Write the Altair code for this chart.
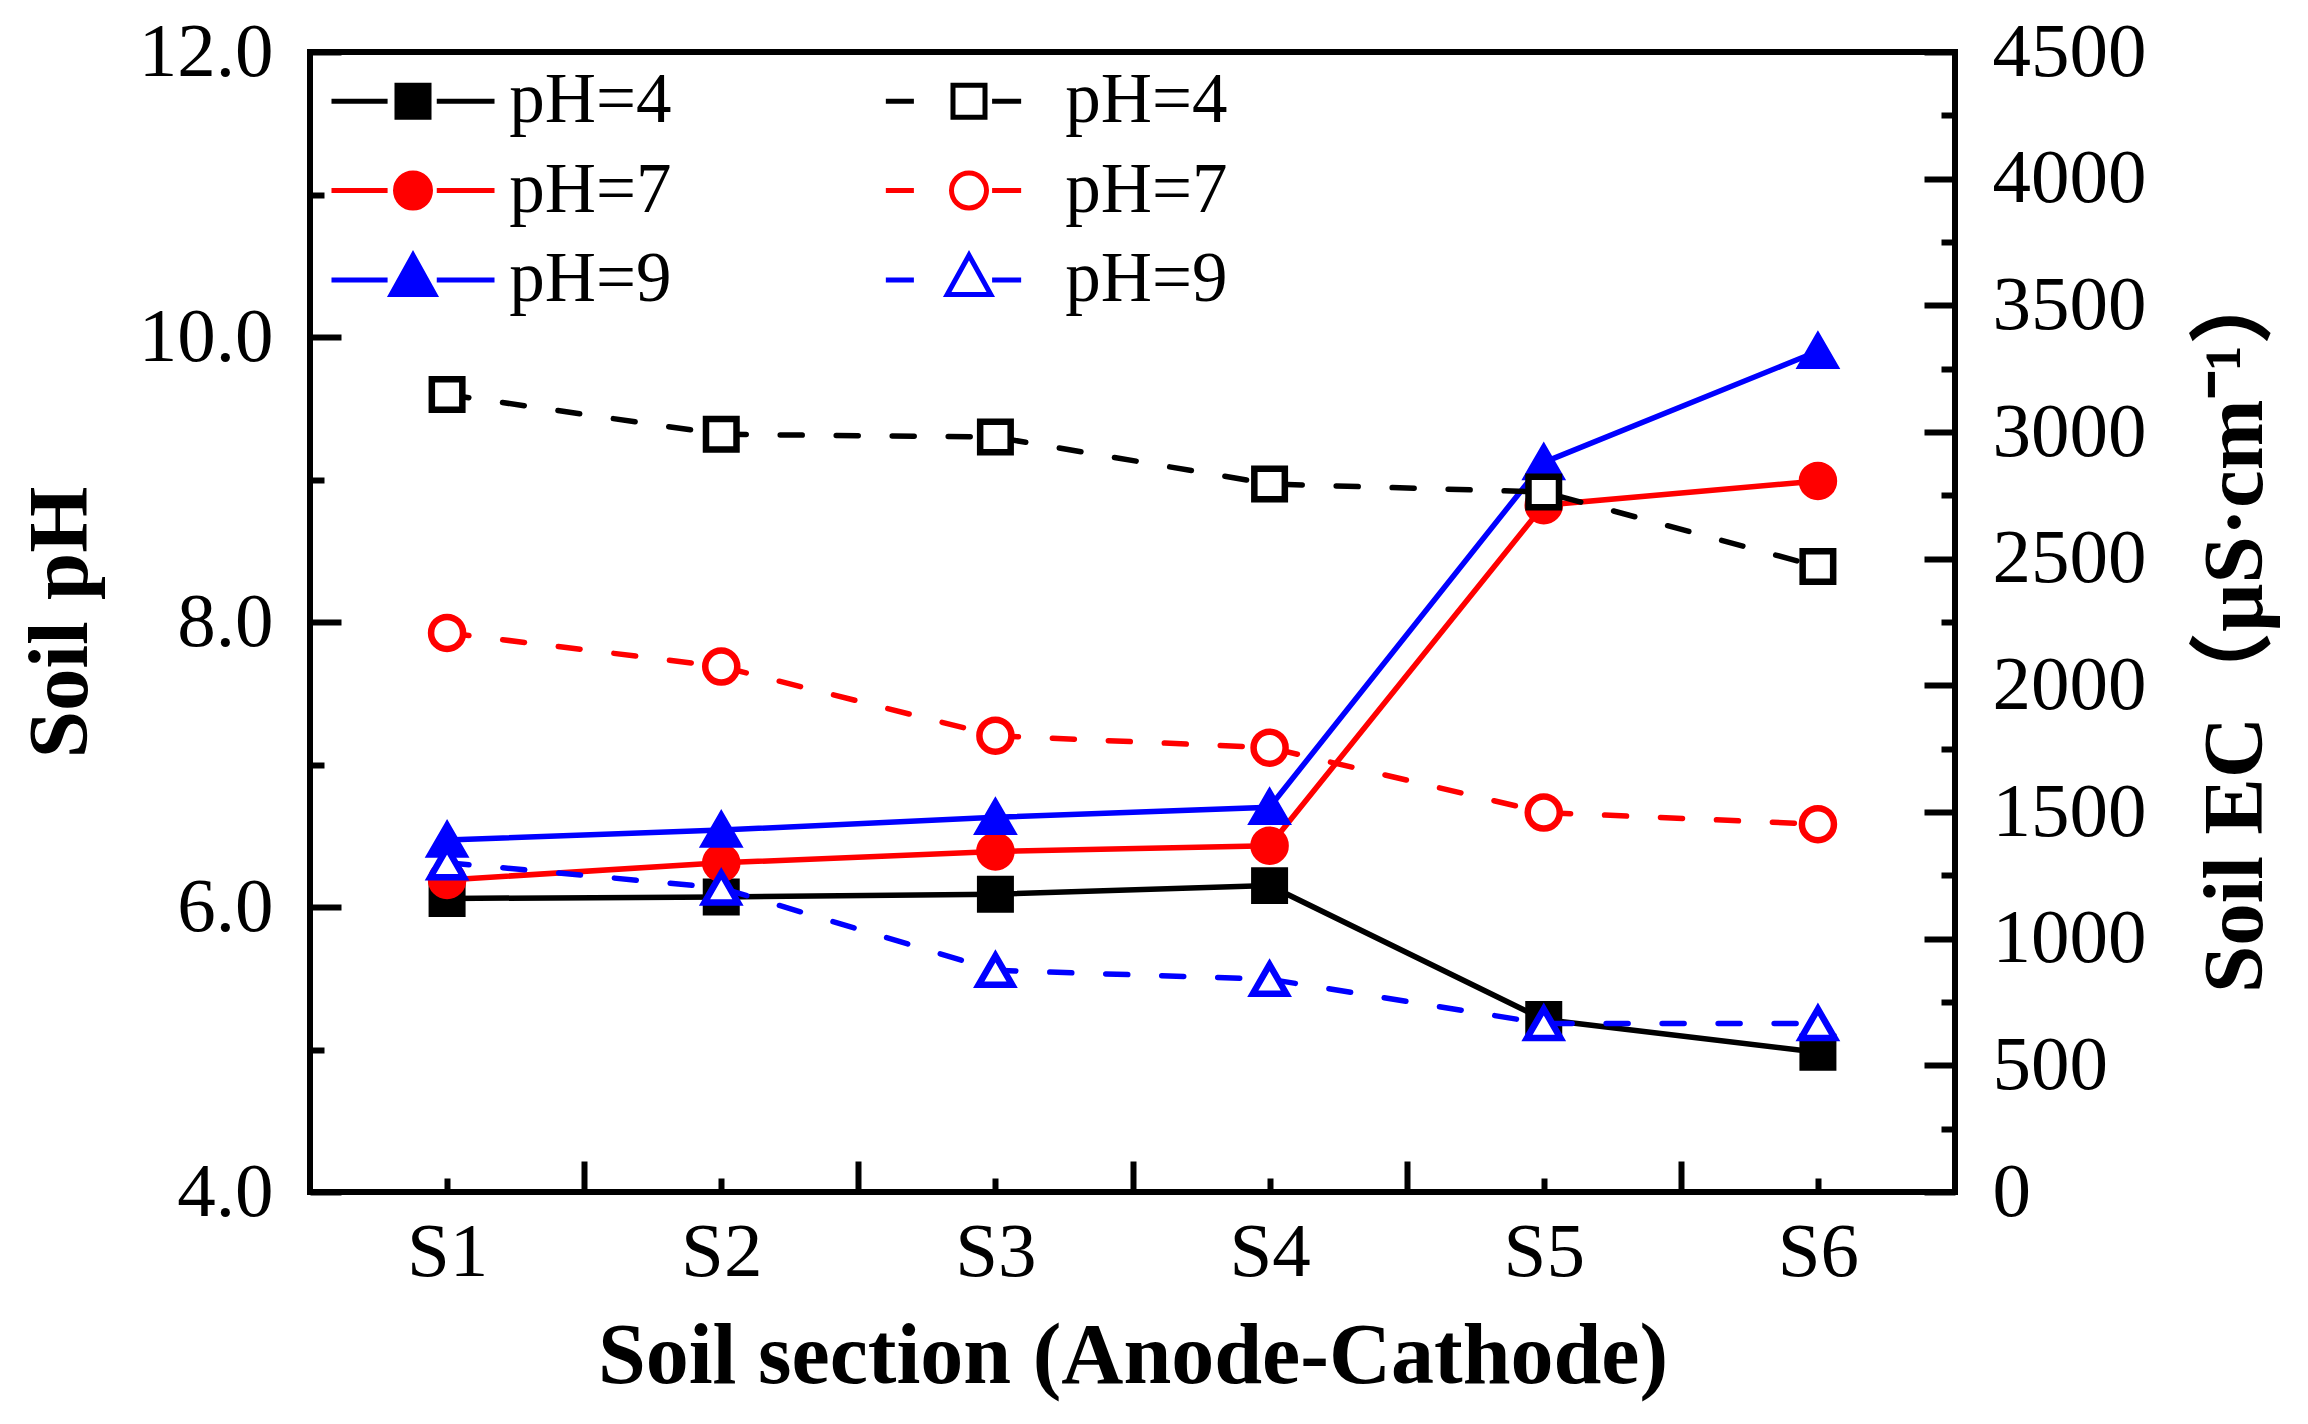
import json
import altair as alt
import pandas as pd

# ---------------- data ----------------
sections = ["S1", "S2", "S3", "S4", "S5", "S6"]
solution_ph = ["pH=4", "pH=7", "pH=9"]

soil_ph_4 = [6.06, 6.07, 6.09, 6.15, 5.21, 4.98]
soil_ph_7 = [6.19, 6.31, 6.39, 6.43, 8.82, 8.99]
soil_ph_9 = [6.47, 6.54, 6.63, 6.70, 9.12, 9.90]

soil_ec_4 = [3148, 2991, 2980, 2795, 2763, 2469]
soil_ec_7 = [2207, 2074, 1801, 1754, 1498, 1452]
soil_ec_9 = [1300, 1200, 875, 840, 665, 665]

ph_tick_values = [4, 5, 6, 7, 8, 9, 10, 11, 12]
ec_tick_values = list(range(0, 4501, 250))
x_tick_values = [1, 1.5, 2, 2.5, 3, 3.5, 4, 4.5, 5, 5.5, 6]

series_colors = ["#000000", "#ff0000", "#0000ff"]
series_shapes = ["square", "circle", "triangle-up"]
series_sizes = [930, 1122, 1850]

# ---------------- tables ----------------
def long_table(series_values):
    rows = []
    for name, vals in zip(solution_ph, series_values):
        for i, (sec, v) in enumerate(zip(sections, vals)):
            rows.append({"series": name, "section": sec, "pos": i + 1, "value": v})
    return pd.DataFrame(rows)

ph_df = long_table([soil_ph_4, soil_ph_7, soil_ph_9])
ec_df = long_table([soil_ec_4, soil_ec_7, soil_ec_9])

entries = [f"{s}|solid" for s in solution_ph] + [f"{s}|open" for s in solution_ph]
legend_df = pd.DataFrame({"entry": entries})

# legend glyphs (line + marker), unit = sqrt(symbolSize)/2 px
seg_solid = "M-2.47,0H-0.77M0.72,0H2.47"
seg_dash = "M-2.52,0H-1.67M0.70,0H1.58"
g_square = "M-0.485,-0.485H0.485V0.485H-0.485Z"
g_circle = "M0.53,0A0.53,0.53,0,1,1,-0.53,0A0.53,0.53,0,1,1,0.53,0Z"
g_tri = "M0,-0.75L0.66,0.44H-0.66Z"
legend_paths = [seg_solid + g_square, seg_solid + g_circle, seg_solid + g_tri,
                seg_dash + g_square, seg_dash + g_circle, seg_dash + g_tri]
legend_fill = series_colors + ["#ffffff"] * 3
legend_stroke = series_colors + series_colors

# ---------------- layout ----------------
W, H = 1645, 1140
SERIF = "Liberation Serif"
TITLE_FONT = "Liberation Serif, Noto Sans CJK SC"

short_dash = [14, 1000]

x_axis = alt.Axis(
    orient="top", offset=-H, values=x_tick_values,
    labelExpr=f"{json.dumps(sections)}[datum.value - 1] || ''",
    tickSize=31, tickWidth=6, tickColor="black",
    tickDash={"condition": {"test": "datum.value % 1 === 0", "value": short_dash}, "value": []},
    labelPadding=-114.5, labelBaseline="alphabetic", labelAlign="center",
    labelOverlap=False, labelFlush=False,
    title="Soil section (Anode-Cathode)", titleY=190.5, titleBaseline="alphabetic",
    titleFontSize=86,
    domain=False, grid=False,
)
x_enc = alt.X("pos:Q", scale=alt.Scale(domain=[0.5, 6.5], nice=False, zero=False), axis=x_axis)

ph_axis = alt.Axis(
    orient="right", offset=-W, values=ph_tick_values,
    labelExpr="datum.value % 2 === 0 ? format(datum.value, '.1f') : ''",
    tickSize=31, tickWidth=6, tickColor="black",
    tickDash={"condition": {"test": "datum.value % 2 !== 0", "value": short_dash}, "value": []},
    labelPadding=-68, labelAlign="right", labelBaseline="middle",
    labelOverlap=False, labelFlush=False,
    title="Soil pH", titleX=-250, titleY=H / 2, titleAngle=270,
    titleBaseline="middle", titleAlign="center",
    domain=False, grid=False,
)
ph_y = alt.Y("value:Q", scale=alt.Scale(domain=[4, 12], nice=False, zero=False), axis=ph_axis)

ec_axis = alt.Axis(
    orient="left", offset=-W, values=ec_tick_values,
    labelExpr="datum.value % 500 === 0 ? format(datum.value, 'd') : ''",
    tickSize=31, tickWidth=6, tickColor="black",
    tickDash={"condition": {"test": "datum.value % 500 !== 0", "value": short_dash}, "value": []},
    labelPadding=-68, labelAlign="left", labelBaseline="middle",
    labelOverlap=False, labelFlush=False,
    title="Soil EC（μS·cm⁻¹）", titleX=280, titleY=H / 2 + 4, titleAngle=270,
    titleBaseline="middle", titleAlign="center",
    domain=False, grid=False,
)
ec_y = alt.Y("value:Q", scale=alt.Scale(domain=[0, 4500], nice=False, zero=False), axis=ec_axis)

stroke_enc = alt.Stroke("series:N", scale=alt.Scale(domain=solution_ph, range=series_colors), legend=None)
shape_enc = alt.Shape("series:N", scale=alt.Scale(domain=solution_ph, range=series_shapes), legend=None)
size_enc = alt.Size("series:N", scale=alt.Scale(domain=solution_ph, range=series_sizes), legend=None)
fill_solid = alt.Fill("series:N", scale=alt.Scale(domain=solution_ph, range=series_colors), legend=None)
fill_open = alt.Fill("series:N", scale=alt.Scale(domain=solution_ph, range=["#ffffff"] * 3), legend=None)

ph_lines = alt.Chart(ph_df).mark_line(strokeWidth=5.5, strokeCap="round").encode(
    x=x_enc, y=ph_y, stroke=stroke_enc)
ph_points = alt.Chart(ph_df).mark_point(strokeWidth=6.5, opacity=1).encode(
    x=x_enc, y=ph_y, stroke=stroke_enc, fill=fill_solid, shape=shape_enc, size=size_enc)

ec_lines = alt.Chart(ec_df).mark_line(strokeWidth=5.5, strokeDash=[22, 34], strokeCap="round").encode(
    x=x_enc, y=ec_y, stroke=stroke_enc)
ec_points = alt.Chart(ec_df).mark_point(strokeWidth=6.5, opacity=1).encode(
    x=x_enc, y=ec_y, stroke=stroke_enc, fill=fill_open, shape=shape_enc, size=size_enc)

leg = alt.Legend(
    orient="none", legendX=19, legendY=13.5, columns=2, direction="vertical",
    columnPadding=203, rowPadding=17.5, padding=0,
    symbolSize=4356, symbolStrokeWidth=5, symbolOffset=48.5, labelOffset=60.7,
    symbolOpacity=1,
    labelFont=SERIF, labelFontSize=71, labelColor="black", labelLimit=500,
    labelExpr="split(datum.label, '|')[0]",
)
legend_layer = alt.Chart(legend_df).transform_filter("false").mark_point(opacity=1).encode(
    shape=alt.Shape("entry:N", scale=alt.Scale(domain=entries, range=legend_paths), legend=leg, title=None),
    fill=alt.Fill("entry:N", scale=alt.Scale(domain=entries, range=legend_fill), legend=leg, title=None),
    stroke=alt.Stroke("entry:N", scale=alt.Scale(domain=entries, range=legend_stroke), legend=leg, title=None),
)

chart = alt.layer(
    alt.layer(ph_lines, ph_points),
    alt.layer(ec_lines, ec_points),
    legend_layer,
).resolve_scale(
    y="independent", fill="independent", stroke="independent", shape="independent", size="independent"
).properties(
    width=W, height=H,
    autosize=alt.AutoSizeParams(type="none"),
    padding={"left": 302, "top": 44, "right": 330, "bottom": 222},
    background="white",
).configure_view(
    stroke="black", strokeWidth=6
).configure_axis(
    labelFont=SERIF, labelFontSize=77, labelColor="black",
    titleFont=TITLE_FONT, titleFontSize=85, titleFontWeight="bold", titleColor="black",
)

chart.save("out.html", embed_options={"renderer": "svg", "actions": False})
